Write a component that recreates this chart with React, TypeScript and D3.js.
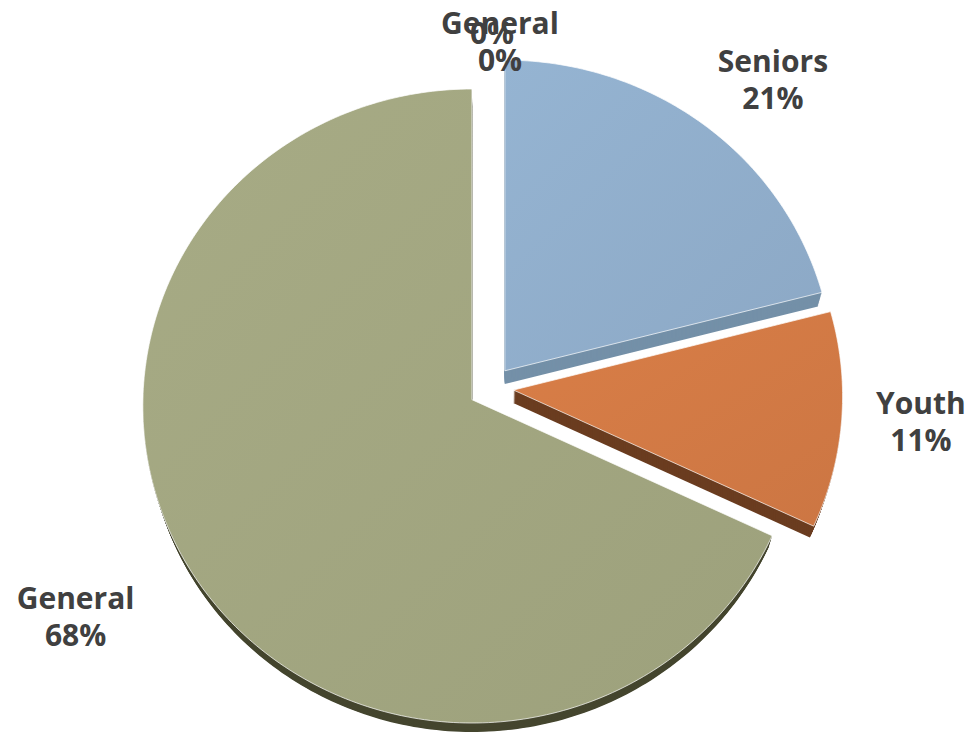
import React, { useEffect, useRef } from 'react';
import * as d3 from 'd3';

// pie data (clockwise from 12 o'clock)
const categories = ['Seniors', 'Youth', 'General', 'General', ''];
const values = [21, 11, 68, 0, 0];

const topColors = ['#8FACC9', '#D07944', '#A0A47F', '#A0A47F', '#A0A47F'];
const sideColors = ['#7490A8', '#6B3D20', '#45462F', '#45462F', '#45462F'];

// small nudges so the data labels sit where Excel put them
const labelNudges: [number, number][] = [[0, 8], [-28, -4], [-27, 14], [9, 0], [1, 10]];

const W = 975;
const H = 736;

const App: React.FC = () => {
  const svgRef = useRef<SVGSVGElement>(null);

  useEffect(() => {
    const svg = d3.select(svgRef.current!);
    svg.selectAll('*').remove();

    // ellipse geometry of the tilted pie
    const cx = 491, cy = 388;
    const rx = 329, ry = 317;
    const persp = 0.02;
    const explode = 22.6;
    const depth = 13;
    const shrink = 0.012; // bottom face slightly smaller (perspective)

    const pie = d3.pie<number>().sort(null).value((d) => d);
    const arcs = pie(values);
    const total = d3.sum(values);

    const proj = (ox: number, oy: number, a: number, r: number): [number, number] => {
      const u = Math.sin(a) * r;
      const v = -Math.cos(a) * r;
      const k = 1 + persp * v;
      return [ox + rx * u * k, oy + ry * v * k];
    };

    const defs = svg.append('defs');
    const sides = svg.append('g').attr('class', 'sides');
    const tops = svg.append('g').attr('class', 'tops');
    const labels = svg.append('g').attr('class', 'labels');

    const line = d3.line<[number, number]>();

    arcs.forEach((a, i) => {
      if (a.endAngle - a.startAngle <= 0) return;
      const mid = (a.startAngle + a.endAngle) / 2;
      const ox = cx + explode * Math.sin(mid);
      const oy = cy - explode * Math.cos(mid) * (ry / rx);
      const n = Math.max(2, Math.ceil((a.endAngle - a.startAngle) / (Math.PI / 180)));
      const pts: [number, number][] = [
        [ox, oy],
        ...d3.range(n + 1).map((j) =>
          proj(ox, oy, a.startAngle + ((a.endAngle - a.startAngle) * j) / n, 1)
        ),
      ];
      const d = line(pts) + 'Z';

      // extrusion: stacked copies of the slice shifted downwards
      d3.range(depth, 0, -1).forEach((dy) => {
        const s = 1 - (shrink * dy) / depth;
        const shifted = pts.map(
          (p) => [cx + (p[0] - cx) * s, cy + (p[1] - cy) * s + dy] as [number, number]
        );
        sides
          .append('path')
          .attr('d', line(shifted) + 'Z')
          .attr('fill', sideColors[i]);
      });

      const base = d3.color(topColors[i])!;
      const grad = defs
        .append('linearGradient')
        .attr('id', `g${i}`)
        .attr('x1', 0).attr('y1', 0).attr('x2', 1).attr('y2', 1);
      grad.append('stop').attr('offset', '0%').attr('stop-color', base.brighter(0.12).formatHex());
      grad.append('stop').attr('offset', '100%').attr('stop-color', base.darker(0.06).formatHex());

      tops
        .append('path')
        .attr('d', d)
        .attr('fill', `url(#g${i})`)
        .attr('stroke', 'rgba(255,255,255,0.7)')
        .attr('stroke-width', 1)
        .attr('stroke-linejoin', 'round');
    });

    // data labels
    const fs = 30;
    const lh = 37;
    const lrx = 460, lry = 400;
    arcs.forEach((a, i) => {
      const mid = (a.startAngle + a.endAngle) / 2;
      const pct = `${Math.round((values[i] / total) * 100)}%`;
      const lines = [categories[i], pct].filter((s) => s !== '');
      let lx = cx + lrx * Math.sin(mid);
      let ly = cy - lry * Math.cos(mid);
      ly = Math.max(ly, 5 + (lines.length * lh) / 2);
      lx += labelNudges[i][0];
      ly += labelNudges[i][1];
      const t = labels
        .append('text')
        .attr('text-anchor', 'middle')
        .attr('font-family', '"Open Sans", "Noto Sans", sans-serif')
        .attr('font-weight', 700)
        .attr('font-size', fs)
        .attr('fill', '#404040');
      const y0 = ly - ((lines.length - 1) * lh) / 2 + 0.36 * fs;
      lines.forEach((s, k) => {
        t.append('tspan').attr('x', lx).attr('y', y0 + k * lh).text(s);
      });
    });
  }, []);

  return (
    <svg
      ref={svgRef}
      width={W}
      height={H}
      style={{ position: 'absolute', left: 0, top: 0, background: '#fff' }}
    />
  );
};

export default App;
